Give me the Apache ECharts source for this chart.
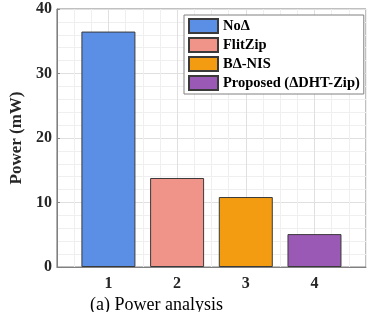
<!DOCTYPE html>
<html>
<head>
<meta charset="utf-8">
<script src="https://cdn.jsdelivr.net/npm/echarts@6/dist/echarts.min.js"></script>
<style>
  html, body { margin: 0; padding: 0; background: #fff; }
  #chart { width: 370px; height: 312px; }
</style>
</head>
<body>
<div id="chart"></div>
<script>
const methods = ['NoΔ', 'FlitZip', 'BΔ-NIS', 'Proposed (ΔDHT-Zip)'];
const positions = [1, 2, 3, 4];
const powerValues = [36.5, 13.8, 10.85, 5.1];
const barColors = ['#5b8fe6', '#f0948a', '#f39c12', '#9b59b6'];
const yTicks = [0, 10, 20, 30, 40];

const serif = "'Liberation Serif', 'Times New Roman', serif";

const chart = echarts.init(document.getElementById('chart'));

const series = methods.map((name, i) => ({
  name: name,
  type: 'bar',
  barWidth: 54,
  barGap: '-100%',
  itemStyle: {
    color: barColors[i],
    borderColor: '#3a3a3a',
    borderWidth: 1,
  },
  data: [[positions[i], powerValues[i]]],
}));

const option = {
  backgroundColor: '#ffffff',
  animation: false,
  title: {
    text: '(a) Power analysis',
    left: 85,
    top: 291,
    textStyle: {
      fontFamily: serif,
      fontWeight: 'normal',
      fontSize: 18,
      color: '#000',
    },
  },
  legend: {
    data: methods,
    orient: 'vertical',
    left: 184,
    top: 15,
    padding: [3, 4, 3, 4],
    itemWidth: 29,
    itemHeight: 14,
    itemGap: 3,
    icon: 'rect',
    backgroundColor: '#ffffff',
    borderColor: '#808080',
    borderWidth: 1,
    borderRadius: 0,
    textStyle: {
      fontFamily: serif,
      fontWeight: 'bold',
      fontSize: 14.5,
      color: '#000',
    },
  },
  grid: {
    left: 43,
    right: 4,
    top: 9,
    bottom: 45,
    show: true,
    borderColor: '#808080',
    borderWidth: 1,
  },
  xAxis: {
    type: 'value',
    min: 0.25,
    max: 4.75,
    interval: 0.25,
    axisLine: { show: true, lineStyle: { color: '#808080' } },
    axisTick: { show: false },
    axisLabel: {
      fontFamily: serif,
      fontWeight: 'bold',
      fontSize: 16,
      color: '#262626',
      margin: 9,
      formatter: v => (positions.includes(v) ? String(v) : ''),
    },
    splitLine: {
      show: true,
      lineStyle: {
        color: ['#efefef', '#efefef', '#efefef', '#e0e0e0'],
        width: 1,
      },
    },
  },
  yAxis: {
    type: 'value',
    min: yTicks[0],
    max: yTicks[yTicks.length - 1],
    interval: 10,
    name: 'Power (mW)',
    nameLocation: 'middle',
    nameGap: 24,
    nameTextStyle: {
      fontFamily: serif,
      fontWeight: 'bold',
      fontSize: 17,
      color: '#262626',
    },
    axisLine: { show: true, lineStyle: { color: '#808080' } },
    axisTick: { show: true, inside: true, length: 3, lineStyle: { color: '#808080' } },
    axisLabel: {
      fontFamily: serif,
      fontWeight: 'bold',
      fontSize: 16,
      color: '#262626',
      margin: 5,
    },
    splitLine: { show: true, lineStyle: { color: '#e0e0e0', width: 1 } },
    minorSplitLine: { show: true, lineStyle: { color: '#efefef', width: 1 } },
  },
  series: series,
};

chart.setOption(option);
</script>
</body>
</html>
